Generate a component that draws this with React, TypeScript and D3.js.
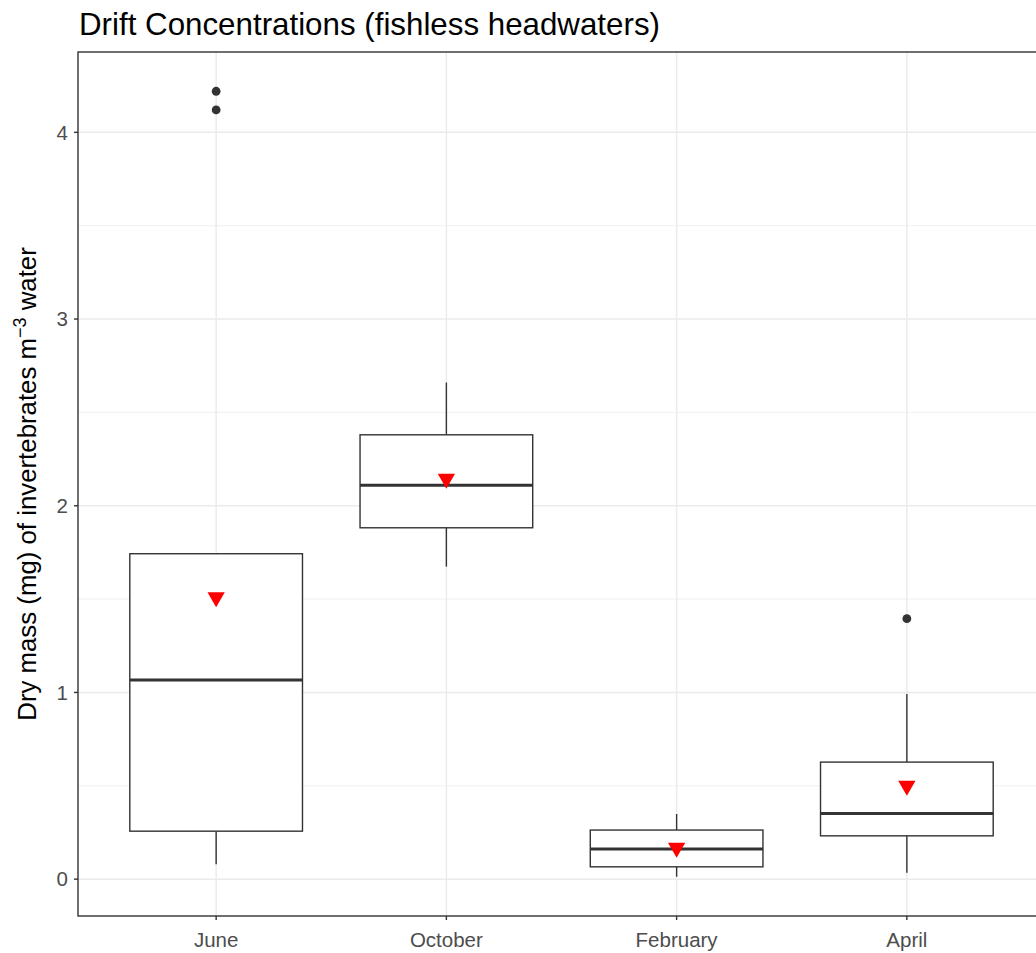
import React from 'react'
import * as d3 from 'd3'

// Data
const months = ['June', 'October', 'February', 'April']
const lowerWhisker = [0.08, 1.674, 0.013, 0.034]
const lowerHinge = [0.257, 1.882, 0.066, 0.232]
const medians = [1.067, 2.11, 0.162, 0.352]
const upperHinge = [1.743, 2.38, 0.263, 0.627]
const upperWhisker = [1.743, 2.66, 0.349, 0.992]
const means = [1.51, 2.145, 0.168, 0.5]
const outliers = [[4.22, 4.12], [], [], [1.395]]
const yTicks = [0, 1, 2, 3, 4]
const yMinor = [0.5, 1.5, 2.5, 3.5]

const width = 1036
const height = 953
const panel = { left: 78, top: 52, right: 1045, bottom: 916 }

export default function App() {
  // y domain with ggplot's 5% expansion
  const allVals = lowerWhisker.concat(upperWhisker, outliers.flat())
  const lo = d3.min(allVals) as number
  const hi = d3.max(allVals) as number
  const pad = (hi - lo) * 0.05

  const x = d3.scalePoint<string>()
    .domain(months)
    .range([panel.left, panel.right])
    .padding(0.6)
  const y = d3.scaleLinear()
    .domain([lo - pad, hi + pad])
    .range([panel.bottom, panel.top])

  const boxW = x.step() * 0.75
  const tri = d3.symbol().type(d3.symbolTriangle).size(130)()

  const font = "'Liberation Sans', Arial, sans-serif"

  return (
    <svg width={width} height={height} style={{ position: 'absolute', left: 0, top: 0 }} fontFamily={font}>
      <rect x={0} y={0} width={width} height={height} fill="#fff" />

      {/* grid */}
      {yMinor.map(v => (
        <line key={'mn' + v} x1={panel.left} x2={panel.right} y1={y(v)} y2={y(v)} stroke="#EBEBEB" strokeWidth={0.8} />
      ))}
      {yTicks.map(v => (
        <line key={'mj' + v} x1={panel.left} x2={panel.right} y1={y(v)} y2={y(v)} stroke="#EBEBEB" strokeWidth={1.5} />
      ))}
      {months.map(m => (
        <line key={'vx' + m} x1={x(m)} x2={x(m)} y1={panel.top} y2={panel.bottom} stroke="#EBEBEB" strokeWidth={1.5} />
      ))}

      {/* boxes */}
      {months.map((m, i) => {
        const cx = x(m) as number
        return (
          <g key={m} stroke="#333333" fill="none">
            <line x1={cx} x2={cx} y1={y(upperWhisker[i])} y2={y(upperHinge[i])} strokeWidth={1.4} />
            <line x1={cx} x2={cx} y1={y(lowerHinge[i])} y2={y(lowerWhisker[i])} strokeWidth={1.4} />
            <rect x={cx - boxW / 2} width={boxW} y={y(upperHinge[i])}
              height={y(lowerHinge[i]) - y(upperHinge[i])} fill="#fff" strokeWidth={1.4} />
            <line x1={cx - boxW / 2} x2={cx + boxW / 2} y1={y(medians[i])} y2={y(medians[i])} strokeWidth={3} />
            {outliers[i].map((v, j) => (
              <circle key={j} cx={cx} cy={y(v)} r={4.4} fill="#333333" stroke="none" />
            ))}
            <path d={tri as string} transform={`translate(${cx},${y(means[i])}) rotate(180)`} fill="#FF0000" stroke="none" />
          </g>
        )
      })}

      {/* panel border */}
      <rect x={panel.left} y={panel.top} width={panel.right - panel.left} height={panel.bottom - panel.top}
        fill="none" stroke="#333333" strokeWidth={1.4} />

      {/* y axis */}
      {yTicks.map(v => (
        <g key={'yt' + v}>
          <line x1={panel.left - 4} x2={panel.left} y1={y(v)} y2={y(v)} stroke="#333333" strokeWidth={1.4} />
          <text x={panel.left - 10} y={y(v)} dy="0.35em" textAnchor="end" fontSize={20.5} fill="#4D4D4D">{v}</text>
        </g>
      ))}

      {/* x axis */}
      {months.map(m => (
        <g key={'xt' + m}>
          <line x1={x(m)} x2={x(m)} y1={panel.bottom} y2={panel.bottom + 4} stroke="#333333" strokeWidth={1.4} />
          <text x={x(m)} y={947} textAnchor="middle" fontSize={20.5} fill="#4D4D4D">{m}</text>
        </g>
      ))}

      {/* y label */}
      <text transform={`translate(36,${(panel.top + panel.bottom) / 2}) rotate(-90)`} textAnchor="middle" fontSize={25.8} fill="#000">
        Dry mass (mg) of invertebrates m<tspan fontSize={18} dy={-10}>−3</tspan><tspan dy={10}> water</tspan>
      </text>

      {/* title */}
      <text x={79} y={35} fontSize={31.3} fill="#000">Drift Concentrations (fishless headwaters)</text>
    </svg>
  )
}
